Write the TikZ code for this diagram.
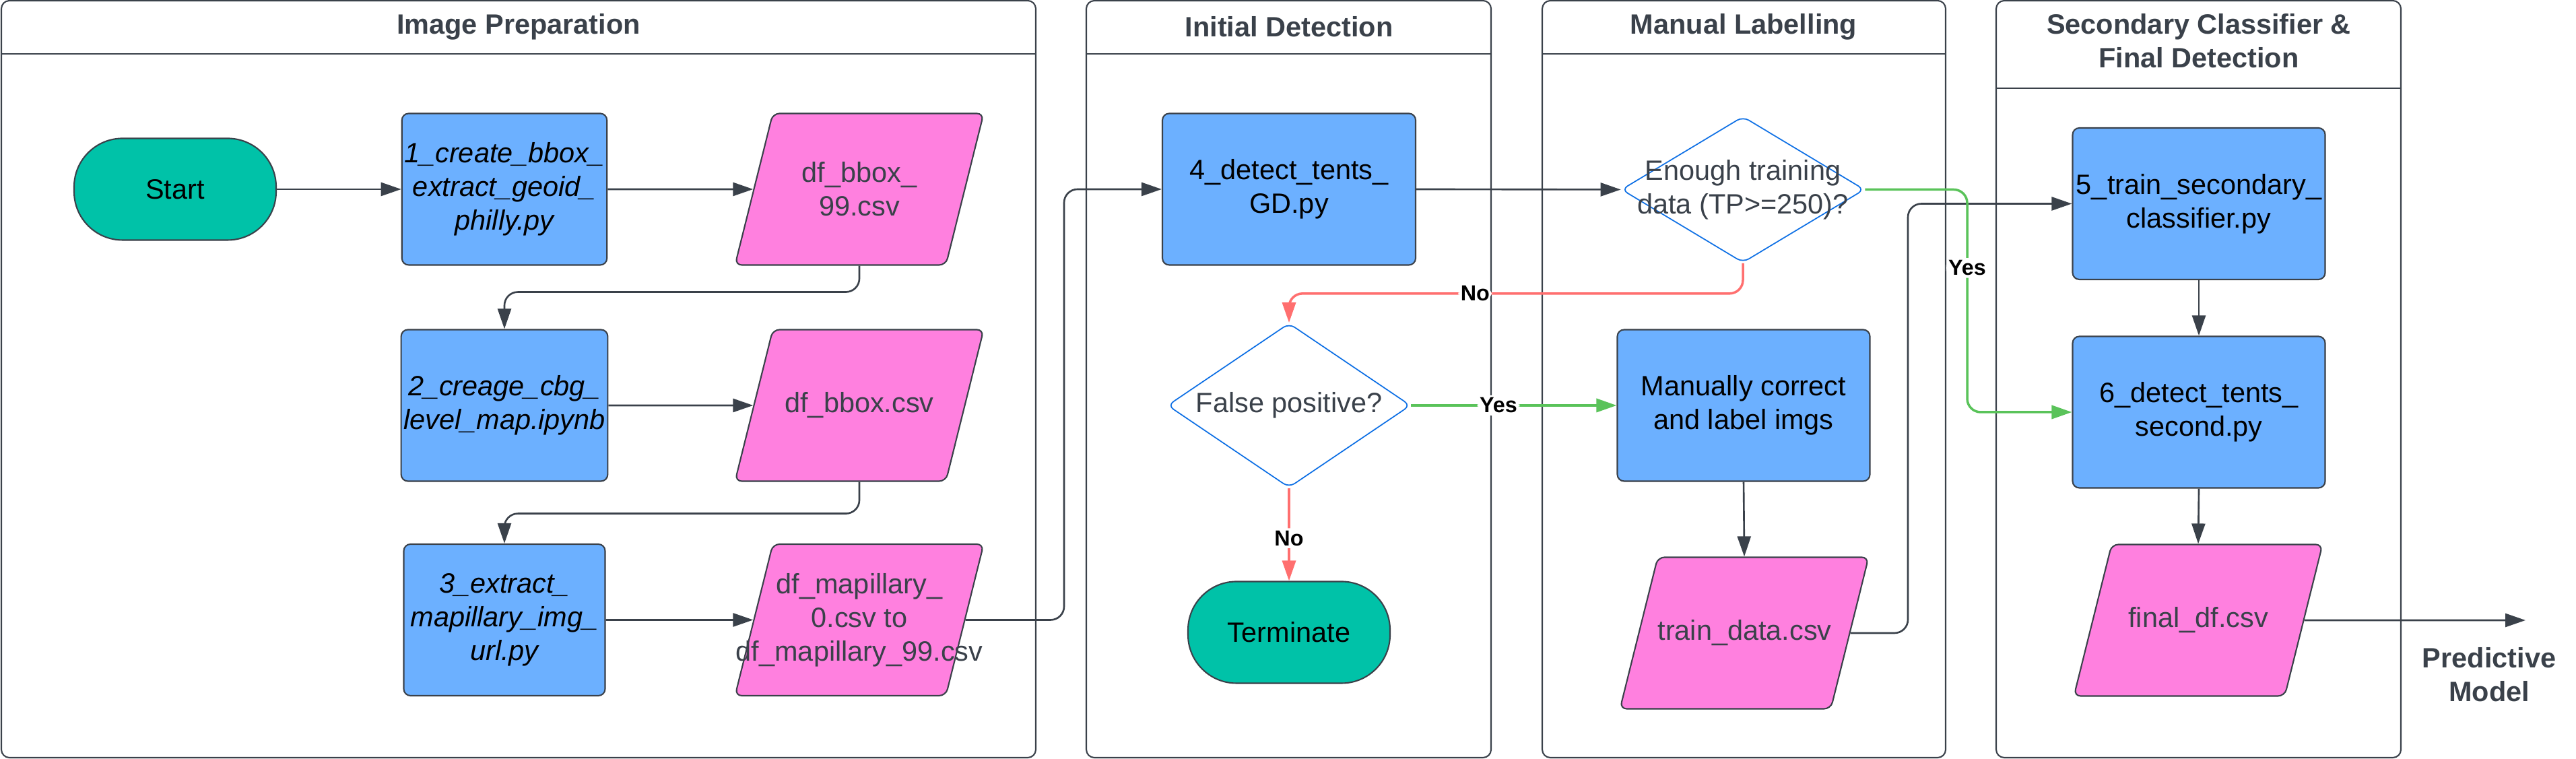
\documentclass[tikz,border=0pt]{standalone}
\usepackage{fontspec}
\setmainfont{Liberation Sans}
\usetikzlibrary{calc, arrows.meta, shapes.geometric}
\definecolor{linegray}{HTML}{3A414A}
\definecolor{boxblue}{HTML}{6CB0FF}
\definecolor{filepink}{HTML}{FF80DF}
\definecolor{termteal}{HTML}{00C2A8}
\definecolor{decblue}{HTML}{1071E5}
\definecolor{nored}{HTML}{FF6F6F}
\definecolor{yesgreen}{HTML}{5AC35A}
\newcommand{\chartfont}{\fontsize{11.8}{14.2}\selectfont}
\newcommand{\ctr}[1]{\makebox[0pt]{#1}}
\newcommand{\filetext}[1]{\parbox[c][2.25cm][c]{2.57cm}{\centering #1}}
\tikzset{
    lane/.style={draw=linegray, line width=0.6pt, rounded corners=0.12cm},
    lanetitle/.style={font=\chartfont\bfseries, text=linegray, align=center},
    script/.style={fill=boxblue, draw=linegray, line width=0.6pt, rounded corners=0.1cm, minimum width=2.99cm, minimum height=2.25cm, inner sep=1pt, align=center, font=\chartfont},
    datafile/.style={trapezium, trapezium left angle=76, trapezium right angle=104,
        fill=filepink, draw=linegray, line width=0.6pt, rounded corners=0.1cm,
        inner sep=0pt, text=linegray, font=\chartfont},
    terminal/.style={fill=termteal, draw=linegray, line width=0.6pt, rounded corners=0.72cm, minimum width=3cm, minimum height=1.51cm, font=\chartfont},
    decision/.style={diamond, draw=decblue, line width=0.5pt, fill=white, rounded corners=0.1cm, inner sep=0pt, align=center, text=linegray, font=\chartfont},
    flow/.style={draw=linegray, line width=0.75pt, rounded corners=0.2cm, -{Triangle[length=3mm, width=2mm]}},
    yesflow/.style={flow, draw=yesgreen, line width=1pt},
    noflow/.style={flow, draw=nored, line width=1pt},
    answer/.style={fill=white, inner sep=1pt, font=\fontsize{9.2}{11}\selectfont\bfseries}
}

\begin{document}
\begin{tikzpicture}
    \useasboundingbox (0,0) rectangle (38.25,11.27);

    \def\top{11.26}  % Top of the lanes
    \def\hd{10.47}   % Header line of the lanes

    % Lane frames
    \draw[lane] (0.02,0.02) rectangle (15.38,\top);
    \draw[lane] (0.02,\hd) -- (15.38,\hd);
    \draw[lane] (16.13,0.02) rectangle (22.14,\top);
    \draw[lane] (16.13,\hd) -- (22.14,\hd);
    \draw[lane] (22.90,0.02) rectangle (28.89,\top);
    \draw[lane] (22.90,\hd) -- (28.89,\hd);
    \draw[lane] (29.64,0.02) rectangle (35.65,\top);
    \draw[lane] (29.64,9.96) -- (35.65,9.96);

    % Lane titles
    \node[lanetitle] (prepTitle) at (7.70,10.87) {Image Preparation};
    \node[lanetitle] (detectTitle) at (19.14,10.87) {Initial Detection};
    \node[lanetitle] (labelTitle) at (25.89,10.87) {Manual Labelling};
    \node[lanetitle] (finalTitle) at (32.65,10.66) {Secondary Classifier \&\\Final Detection};

    % Image preparation
    \node[terminal] (start) at (2.60,8.46) {Start};
    \node[script, font=\chartfont\itshape] (prep1) at (7.49,8.46) {1\_create\_bbox\_\\extract\_geoid\_\\philly.py};
    \node[script, font=\chartfont\itshape] (prep2) at (7.49,5.25) {2\_creage\_cbg\_\\level\_map.ipynb};
    \node[script, font=\chartfont\itshape] (prep3) at (7.49,2.065) {3\_extract\_\\mapillary\_img\_\\url.py};
    \node[datafile] (bbox99) at (12.76,8.46) {\filetext{df\_bbox\_\\99.csv}};
    \node[datafile] (bbox) at (12.76,5.25) {\filetext{df\_bbox.csv}};
    \node[datafile] (mapillary) at (12.76,2.065) {\filetext{df\_mapillary\_\\0.csv to\\\ctr{df\_mapillary\_99.csv}}};

    % Initial detection
    \node[script, minimum width=3.76cm] (detect) at (19.14,8.46) {4\_detect\_tents\_\\GD.py};
    \node[decision, minimum width=3.61cm, minimum height=2.44cm] (fp) at (19.14,5.25) {\ctr{False positive?}};
    \node[terminal] (terminate) at (19.14,1.88) {Terminate};

    % Manual labelling
    \node[decision, minimum width=3.61cm, minimum height=2.17cm] (enough) at (25.88,8.455) {\ctr{Enough training}\\\ctr{data (TP>=250)?}};
    \node[script, minimum width=3.75cm] (manual) at (25.89,5.25) {Manually correct\\and label imgs};
    \node[datafile] (traindata) at (25.90,1.87) {\filetext{train\_data.csv}};

    % Secondary classifier and final detection
    \node[script, minimum width=3.75cm] (train2) at (32.65,8.245) {5\_train\_secondary\_\\classifier.py};
    \node[script, minimum width=3.75cm] (detect2) at (32.65,5.15) {6\_detect\_tents\_\\second.py};
    \node[datafile] (finaldf) at (32.64,2.06) {\filetext{final\_df.csv}};
    \node[lanetitle] (model) at (36.96,1.25) {Predictive\\Model};

    % Bends of the long connectors
    \coordinate (bendA) at (15.80,2.065);
    \coordinate (bendB) at (28.33,1.87);
    \coordinate (bendC) at (29.21,8.455);
    \coordinate (modelIn) at (37.50,2.06);

    % Connectors
    \draw[flow] (start.east) -- (prep1.west);
    \draw[flow] (prep1.east) -- (bbox99.west);
    \draw[flow] (prep2.east) -- (bbox.west);
    \draw[flow] (prep3.east) -- (mapillary.west);
    \draw[flow] (bbox99.south) -- ++(0,-0.39) -| (prep2.north);
    \draw[flow] (bbox.south) -- ++(0,-0.47) -| (prep3.north);
    \draw[flow] (mapillary.east) -- (bendA) |- (detect.west);
    \draw[flow] (detect.east) -- (enough.west);
    \draw[noflow] (enough.south) -- ++(0,-0.45) -| node[answer, pos=0.295] {No} (fp.north);
    \draw[yesflow] (fp.east) -- node[answer, pos=0.425] {Yes} (manual.west);
    \draw[noflow] (fp.south) -- node[answer, pos=0.54] {No} (terminate.north);
    \draw[flow] (manual.south) -- (traindata.north);
    \draw[flow] (traindata.east) -- (bendB) |- (train2.west);
    \draw[yesflow] (enough.east) -- (bendC) |- node[answer, pos=0.176] {Yes} (detect2.west);
    \draw[flow] (train2.south) -- (detect2.north);
    \draw[flow] (detect2.south) -- (finaldf.north);
    \draw[flow] (finaldf.east) -- (modelIn);

\end{tikzpicture}
\end{document}
